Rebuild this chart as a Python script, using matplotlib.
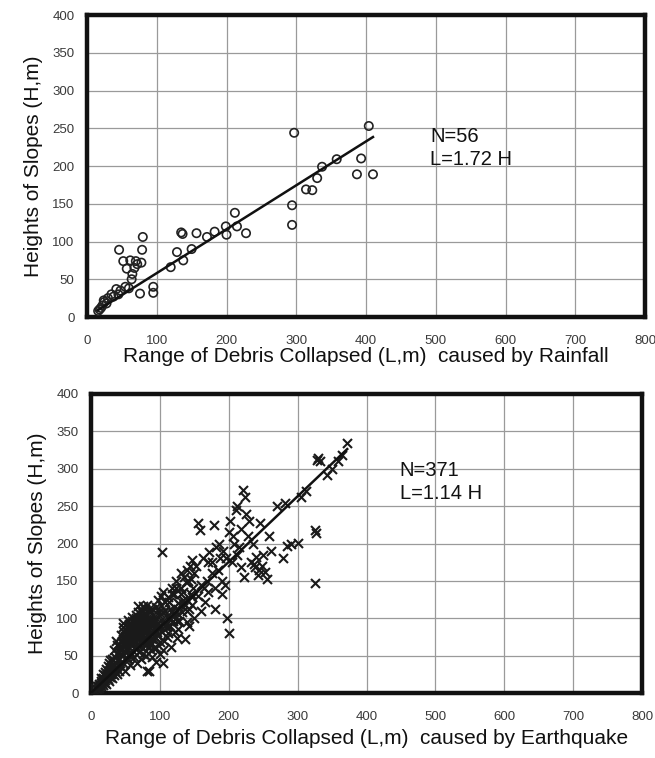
import matplotlib
matplotlib.use("Agg")
import matplotlib.pyplot as plt
import numpy as np

plt.rcParams['font.family'] = ['Liberation Sans', 'DejaVu Sans']

# ---------------- data: rainfall ----------------
rain_L = [297, 404, 393, 387, 410, 358, 337, 330, 314, 323, 294, 294, 212, 200, 199,
          215, 228, 183, 172, 157, 135, 137, 129, 138, 120, 150, 95, 95, 80, 79,
          46, 52, 62, 70, 78, 57, 65, 64, 76, 42, 48, 35, 38, 30, 25,
          22, 20, 18, 28, 55, 60, 72, 68, 45, 24, 16]
rain_H = [244, 253, 210, 189, 189, 209, 199, 184, 169, 168, 148, 122, 138, 109, 120,
          120, 111, 113, 106, 111, 112, 110, 86, 75, 66, 90, 40, 32, 106, 89,
          89, 74, 75, 74, 72, 64, 57, 50, 31, 37, 35, 30, 27, 25, 20,
          15, 12, 10, 18, 40, 38, 70, 65, 30, 22, 8]
rain_fit_L = [15, 410]
rain_coef = 1.72
rain_text = "N=56\nL=1.72 H"

# ---------------- data: earthquake ----------------
quake_L = [
    # near origin
    3, 5, 6, 8, 8, 9, 10, 11, 12, 12, 13, 14, 15, 15, 16, 17, 18, 18, 19, 20,
    20, 21, 22, 22, 23, 24, 25, 25, 26, 27, 28, 28, 29, 30, 30, 31, 32, 32, 33, 34,
    35, 35, 36, 37, 38, 38, 39, 40, 40, 14, 18, 22, 26, 30, 34, 38, 20, 24, 28, 36,
    # dense cluster
    41, 42, 43, 44, 45, 46, 47, 48, 49, 50,
    50, 51, 52, 53, 54, 55, 56, 57, 58, 59,
    60, 60, 61, 62, 63, 64, 65, 66, 67, 68,
    68, 69, 70, 70, 71, 72, 73, 74, 75, 76,
    76, 77, 78, 79, 80, 80, 81, 82, 83, 84,
    84, 85, 86, 87, 88, 89, 90, 90, 45, 48,
    52, 55, 58, 62, 65, 68, 72, 75, 78, 82,
    44, 47, 50, 53, 56, 59, 62, 65, 68, 71,
    74, 77, 80, 83, 86, 89, 54, 57, 60, 63,
    66, 69, 72, 75, 78, 81, 84, 87, 43, 46,
    49, 52, 55, 58, 61, 64, 67, 70, 73, 76,
    79, 82, 85, 88, 42, 46, 50, 54, 58, 62,
    66, 70, 74, 78, 82, 86, 90, 56, 64, 72,
    80, 88, 60, 68, 76, 84, 52, 58, 64, 70,
    76, 82, 88, 94, 96, 92, 98, 100, 95, 99,
    # middle band
    92, 94, 96, 98, 100, 102, 104, 106, 108, 110,
    112, 114, 116, 118, 120, 122, 124, 126, 128, 130,
    132, 134, 136, 138, 140, 142, 144, 146, 148, 150,
    95, 100, 105, 110, 115, 120, 125, 130, 135, 140,
    93, 97, 101, 105, 109, 113, 117, 121, 125, 129,
    133, 137, 141, 145, 149, 103, 107, 111, 119, 127,
    139, 143, 147, 91, 99, 107, 115, 123, 131, 139,
    147, 102, 118, 134, 145, 81, 88, 105, 112, 126,
    # upper band
    152, 155, 158, 160, 162, 165, 168, 170, 172, 175,
    178, 180, 182, 185, 188, 190, 192, 195, 198, 200,
    200, 202, 205, 208, 210, 212, 215, 218, 220, 222,
    225, 228, 230, 232, 235, 238, 240, 242, 245, 248,
    250, 252, 255, 258, 156, 164, 176, 186, 196, 206,
    212, 218, 224, 236, 244, 160, 170, 180, 190, 103,
    # far points
    262, 270, 279, 282, 285, 290, 300, 305, 312, 328,
    330, 333, 342, 326, 325, 325, 350, 358, 365, 372, 84]
quake_H = [
    2, 4, 7, 5, 9, 6, 10, 8, 12, 7, 11, 14, 9, 16, 13, 18, 11, 20, 15, 13,
    24, 17, 21, 12, 26, 19, 23, 30, 16, 28, 22, 34, 25, 20, 38, 27, 31, 44, 24, 36,
    29, 48, 33, 40, 26, 52, 37, 30, 56, 20, 26, 32, 40, 46, 58, 64, 28, 36, 44, 70,
    45, 62, 35, 78, 50, 93, 40, 68, 55, 85,
    30, 60, 72, 44, 88, 52, 65, 38, 80, 96,
    58, 102, 70, 48, 84, 62, 92, 75, 40, 108,
    66, 88, 55, 98, 78, 110, 45, 85, 68, 100,
    60, 92, 74, 112, 50, 84, 104, 70, 95, 62,
    88, 76, 110, 58, 96, 72, 104, 84, 70, 82,
    58, 76, 64, 80, 100, 94, 62, 78, 88, 100,
    58, 72, 66, 62, 70, 90, 88, 80, 116, 74,
    104, 82, 96, 86, 68, 92, 46, 50, 66, 76,
    86, 92, 94, 52, 64, 78, 112, 66, 52, 66,
    72, 82, 92, 70, 90, 96, 82, 64, 92, 74,
    98, 86, 98, 80, 40, 88, 76, 98, 88, 72,
    104, 82, 76, 106, 78, 64, 94, 84, 98, 86,
    72, 90, 80, 72, 84, 96, 68, 54, 60, 90,
    116, 118, 112, 100, 82, 72, 94, 88, 60, 108,
    60, 115, 78, 125, 52, 98, 135, 70, 110, 88,
    128, 100, 62, 140, 115, 82, 150, 120, 96, 160,
    108, 135, 72, 148, 125, 90, 170, 118, 140, 100,
    42, 68, 40, 75, 90, 105, 74, 132, 155, 110,
    98, 88, 118, 108, 92, 122, 110, 132, 96, 118,
    124, 118, 150, 132, 160, 82, 122, 102, 96, 106,
    95, 112, 128, 76, 104, 90, 112, 140, 140, 165,
    178, 130, 132, 120, 152, 30, 48, 58, 80, 86,
    170, 228, 218, 145, 180, 122, 150, 175, 188, 160,
    225, 140, 195, 165, 180, 132, 190, 145, 100, 215,
    80, 230, 175, 200, 245, 250, 195, 168, 272, 155,
    240, 210, 230, 175, 200, 168, 182, 158, 228, 170,
    185, 162, 152, 210, 130, 140, 175, 200, 180, 210,
    185, 220, 262, 172, 165, 110, 135, 112, 150, 189,
    190, 250, 180, 254, 196, 200, 201, 262, 270, 312,
    315, 310, 292, 214, 218, 147, 300, 310, 318, 335, 30]
quake_fit_L = [0, 372]
quake_coef = 1.14
quake_text = "N=371\nL=1.14 H"

x_ticks = [0, 100, 200, 300, 400, 500, 600, 700, 800]
y_ticks = [0, 50, 100, 150, 200, 250, 300, 350, 400]
y_label = "Heights of Slopes (H,m)"
x_label_rain = "Range of Debris Collapsed (L,m)  caused by Rainfall"
x_label_quake = "Range of Debris Collapsed (L,m)  caused by Earthquake"

fig = plt.figure(figsize=(6.55, 7.58), dpi=100)
fig.patch.set_facecolor('white')

ax1 = fig.add_axes([87/655, 1-317/758, (645-87)/655, (317-15)/758])
ax2 = fig.add_axes([91/655, 1-693/758, (642-91)/655, (693-394)/758])


def style(ax, xlabel, xpad):
    ax.set_xlim(0, 800)
    ax.set_ylim(0, 400)
    ax.set_xticks(x_ticks)
    ax.set_yticks(y_ticks)
    ax.set_xticklabels([str(t) for t in x_ticks])
    ax.set_yticklabels([str(t) for t in y_ticks])
    ax.tick_params(length=0, labelsize=9.5, labelcolor='#3a3a3a')
    ax.tick_params(axis='x', pad=13)
    ax.tick_params(axis='y', pad=9)
    ax.grid(True, color='#9a9a9a', linewidth=0.9)
    ax.set_axisbelow(True)
    for s in ax.spines.values():
        s.set_linewidth(3.2)
        s.set_color('#111111')
    ax.set_ylabel(y_label, fontsize=15, labelpad=7, color='#111111')
    ax.set_xlabel(xlabel, fontsize=15, labelpad=xpad, color='#111111')


style(ax1, x_label_rain, 0)
style(ax2, x_label_quake, 4)

ax1.scatter(rain_L, rain_H, s=36, facecolors='none', edgecolors='#222222', linewidths=1.2, zorder=3)
fl = np.array(rain_fit_L, dtype=float)
ax1.plot(fl, fl / rain_coef, color='#111111', linewidth=1.8, zorder=4)
ax1.text(492, 252, rain_text, fontsize=14.5, va='top', ha='left', linespacing=1.3, color='#111111')

ax2.scatter(quake_L, quake_H, s=42, marker='x', color='#1a1a1a', linewidths=1.5, zorder=3)
fq = np.array(quake_fit_L, dtype=float)
ax2.plot(fq, fq / quake_coef, color='#111111', linewidth=1.8, zorder=4)
ax2.text(448, 311, quake_text, fontsize=14.5, va='top', ha='left', linespacing=1.3, color='#111111')

fig.savefig("out.png", dpi=100, facecolor='white')
